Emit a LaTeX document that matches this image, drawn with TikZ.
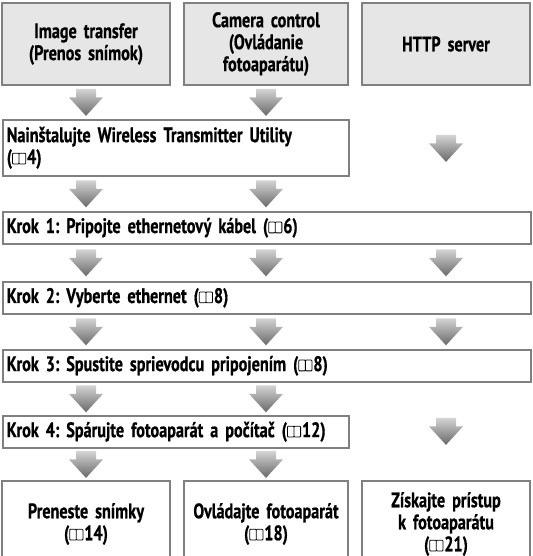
\documentclass[tikz,border=0pt]{standalone}
\usepackage{fontspec}
\setmainfont{PT Sans}[FakeStretch=0.77,BoldFeatures={FakeBold=0.6}]
\usetikzlibrary{calc}

\definecolor{boxline}{RGB}{128,128,128}
\definecolor{headfill}{RGB}{230,230,230}
\definecolor{arrowtop}{RGB}{212,212,212}
\definecolor{arrowtip}{RGB}{105,105,105}

\newsavebox\bookbox
\sbox\bookbox{\tikz[x=1pt,y=1pt,line width=0.8pt,baseline=0pt]{%
  \draw[rounded corners=0.8pt] (0.4,0.2) rectangle (7,11) (7,0.2) rectangle (13.6,11);}}
\newcommand{\bk}{\usebox\bookbox\hspace{1pt}}
\newcommand{\boxfont}{\bfseries\fontsize{21}{22}\selectfont\frenchspacing
  \spaceskip=3pt plus 1pt minus 0.5pt\relax}

\tikzset{
  flowbox/.style={draw=boxline, line width=1.6pt, fill=white, inner sep=4pt, font=\boxfont},
  headbox/.style={flowbox, fill=headfill, align=center, text width=156pt, minimum height=82pt},
  stepbox/.style={flowbox, anchor=north west, align=left, minimum height=32pt},
  endbox/.style={flowbox, align=center, text width=156pt, minimum height=86pt},
  flowarrow/.pic={
    \shade[top color=arrowtop, bottom color=arrowtip]
      (-10,13.5) -- (10,13.5) -- (10,5) -- (17,5) -- (0,-13.5) -- (-17,5) -- (-10,5) -- cycle;
  }
}

\begin{document}
\begin{tikzpicture}[x=1pt,y=1pt]
  \useasboundingbox (0,0) rectangle (532,-556);
  \clip (0,0) rectangle (532,-556);

  % column heads
  \node[headbox, minimum width=168pt] (img) at (86,-44) {Image transfer\\(Prenos snímok)};
  \node[headbox, minimum width=164pt] (cam) at (266,-44) {Camera control\\(Ovládanie\\fotoaparátu)};
  \node[headbox, minimum width=168pt] (http) at (446,-44) {HTTP server};

  % steps
  \node[stepbox, text width=338pt, minimum height=56pt] (inst) at (2,-119) {Nainštalujte Wireless Transmitter Utility\\(\bk4)};
  \node[stepbox, text width=520pt] (step1) at (2,-211) {Krok 1: Pripojte ethernetový kábel (\bk6)};
  \node[stepbox, text width=520pt] (step2) at (2,-281) {Krok 2: Vyberte ethernet (\bk8)};
  \node[stepbox, text width=520pt] (step3) at (2,-349) {Krok 3: Spustite sprievodcu pripojením (\bk8)};
  \node[stepbox, text width=338pt] (step4) at (2,-415) {Krok 4: Spárujte fotoaparát a počítač (\bk12)};

  % results
  \node[endbox, minimum width=168pt] (send) at (86,-524) {Preneste snímky\\(\bk14)};
  \node[endbox, minimum width=164pt] (ctrl) at (266,-524) {Ovládajte fotoaparát\\(\bk18)};
  \node[endbox, minimum width=168pt] (srv) at (446,-524) {Získajte prístup\\k fotoaparátu\\(\bk21)};

  % arrows
  \path ($(img.south)!0.5!(inst.north -| img.south)$) pic {flowarrow};
  \path ($(cam.south)!0.5!(inst.north -| cam.south)$) pic {flowarrow};
  \path ($(http.south)!0.5!(step1.north -| http.south)$) pic {flowarrow};

  \path ($(inst.south -| img.south)!0.5!(step1.north -| img.south)$) pic {flowarrow};
  \path ($(inst.south -| cam.south)!0.5!(step1.north -| cam.south)$) pic {flowarrow};

  \foreach \col in {img,cam,http}{
    \path ($(step1.south -| \col.south)!0.5!(step2.north -| \col.south)$) pic {flowarrow};
    \path ($(step2.south -| \col.south)!0.5!(step3.north -| \col.south)$) pic {flowarrow};
  }

  \path ($(step3.south -| img.south)!0.5!(step4.north -| img.south)$) pic {flowarrow};
  \path ($(step3.south -| cam.south)!0.5!(step4.north -| cam.south)$) pic {flowarrow};
  \path ($(step3.south -| http.south)!0.5!(srv.north)$) pic {flowarrow};

  \path ($(step4.south -| img.south)!0.5!(send.north)$) pic {flowarrow};
  \path ($(step4.south -| cam.south)!0.5!(ctrl.north)$) pic {flowarrow};
\end{tikzpicture}
\end{document}
